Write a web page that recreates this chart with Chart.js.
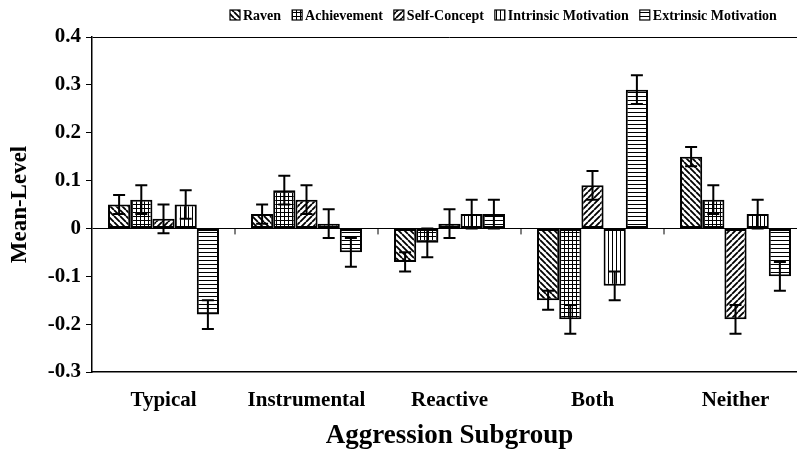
<!DOCTYPE html>
<html>
<head>
<meta charset="utf-8">
<script src="https://cdn.jsdelivr.net/npm/chart.js@4.4.0/dist/chart.umd.min.js"></script>
<style>
html, body { margin: 0; padding: 0; background: #fff; overflow: hidden; }
#wrap { position: relative; width: 812px; height: 455px; }
</style>
</head>
<body>
<div id="wrap"><canvas id="myChart"></canvas></div>
<script>
var grupos = ['Typical', 'Instrumental', 'Reactive', 'Both', 'Neither'];

var raven = [0.05, 0.03, -0.07, -0.15, 0.15];
var achievement = [0.06, 0.08, -0.03, -0.19, 0.06];
var selfConcept = [0.02, 0.06, 0.01, 0.09, -0.19];
var intrinsic = [0.05, 0.01, 0.03, -0.12, 0.03];
var extrinsic = [-0.18, -0.05, 0.03, 0.29, -0.10];

var ravenErro = [0.02, 0.02, 0.02, 0.02, 0.02];
var achievementErro = [0.03, 0.03, 0.03, 0.03, 0.03];
var selfConceptErro = [0.03, 0.03, 0.03, 0.03, 0.03];
var intrinsicErro = [0.03, 0.03, 0.03, 0.03, 0.03];
var extrinsicErro = [0.03, 0.03, 0.03, 0.03, 0.03];

var rotulosY = ['-0.3', '-0.2', '-0.1', '0', '0.1', '0.2', '0.3', '0.4'];

var erros = [ravenErro, achievementErro, selfConceptErro, intrinsicErro, extrinsicErro];

var fonte = "'Liberation Serif', 'Times New Roman', serif";
Chart.defaults.font.family = fonte;
Chart.defaults.font.weight = 'bold';
Chart.defaults.color = '#000';

// hachuras no estilo do grafico original
function criarPadrao(tipo) {
    var s = 6;
    if (tipo === 'grade' || tipo === 'vertical' || tipo === 'horizontal') s = 4;
    var c = document.createElement('canvas');
    c.width = s;
    c.height = s;
    var p = c.getContext('2d');
    p.fillStyle = '#fff';
    p.fillRect(0, 0, s, s);
    p.strokeStyle = '#000';
    p.lineWidth = (tipo === 'contra' || tipo === 'diagonal') ? 1.8 : 1;
    p.beginPath();
    if (tipo === 'contra') {
        for (var o = -s; o <= s; o += s) { p.moveTo(o, 0); p.lineTo(o + s, s); }
    } else if (tipo === 'diagonal') {
        for (var o2 = -s; o2 <= s; o2 += s) { p.moveTo(o2, s); p.lineTo(o2 + s, 0); }
    } else if (tipo === 'grade') {
        p.moveTo(0, 0.5); p.lineTo(s, 0.5);
        p.moveTo(0.5, 0); p.lineTo(0.5, s);
    } else if (tipo === 'vertical') {
        p.moveTo(0.5, 0); p.lineTo(0.5, s);
    } else {
        p.moveTo(0, 0.5); p.lineTo(s, 0.5);
    }
    p.stroke();
    return p.createPattern(c, 'repeat');
}

var errosPlugin = {
    id: 'erros',
    afterDatasetsDraw: function (chart) {
        var ctx = chart.ctx;
        var y = chart.scales.y;
        ctx.save();
        ctx.strokeStyle = '#000';
        ctx.lineWidth = 2;
        chart.data.datasets.forEach(function (ds, i) {
            var meta = chart.getDatasetMeta(i);
            meta.data.forEach(function (bar, j) {
                var v = ds.data[j];
                var e = erros[i][j];
                var yTop = y.getPixelForValue(v + e);
                var yBot = y.getPixelForValue(v - e);
                ctx.beginPath();
                ctx.moveTo(bar.x, yTop); ctx.lineTo(bar.x, yBot);
                ctx.moveTo(bar.x - 6, yTop); ctx.lineTo(bar.x + 6, yTop);
                ctx.moveTo(bar.x - 6, yBot); ctx.lineTo(bar.x + 6, yBot);
                ctx.stroke();
            });
        });
        // marcas entre grupos na linha do zero
        var x = chart.scales.x;
        var y0 = y.getPixelForValue(0);
        ctx.lineWidth = 1;
        ctx.beginPath();
        for (var k = 0; k < grupos.length - 1; k++) {
            var xb = (x.getPixelForValue(k) + x.getPixelForValue(k + 1)) / 2;
            ctx.moveTo(xb, y0); ctx.lineTo(xb, y0 + 6);
        }
        ctx.stroke();
        ctx.restore();
    }
};

var legendaPlugin = {
    id: 'legenda',
    afterDraw: function (chart) {
        var ctx = chart.ctx;
        ctx.save();
        ctx.font = 'bold 14px ' + fonte;
        ctx.textBaseline = 'middle';
        ctx.fillStyle = '#000';
        var xAtual = 230;
        var yLeg = 15;
        chart.data.datasets.forEach(function (ds) {
            ctx.fillStyle = ds.backgroundColor;
            ctx.fillRect(xAtual, yLeg - 5, 10, 10);
            ctx.strokeStyle = '#000';
            ctx.lineWidth = 1.2;
            ctx.strokeRect(xAtual, yLeg - 5, 10, 10);
            ctx.fillStyle = '#000';
            ctx.fillText(ds.label, xAtual + 13, yLeg + 1);
            xAtual += 13 + ctx.measureText(ds.label).width + 11;
        });
        ctx.restore();
    }
};

function serie(nome, dados, tipo) {
    return {
        label: nome,
        data: dados,
        backgroundColor: criarPadrao(tipo),
        borderColor: '#000',
        borderWidth: 2,
        borderSkipped: false,
        categoryPercentage: 0.776,
        barPercentage: 1
    };
}

const ctx = document.getElementById('myChart');

var myChart = new Chart(ctx, {
    type: 'bar',
    data: {
        labels: grupos,
        datasets: [
            serie('Raven', raven, 'contra'),
            serie('Achievement', achievement, 'grade'),
            serie('Self-Concept', selfConcept, 'diagonal'),
            serie('Intrinsic Motivation', intrinsic, 'vertical'),
            serie('Extrinsic Motivation', extrinsic, 'horizontal')
        ]
    },
    plugins: [errosPlugin, legendaPlugin],
    options: {
        responsive: true,
        maintainAspectRatio: false,
        animation: false,
        layout: {
            padding: { top: 37, right: 5, left: 0, bottom: 0 }
        },
        scales: {
            y: {
                min: -0.3,
                max: 0.4,
                afterFit: function (scale) { scale.width = 92; },
                ticks: {
                    stepSize: 0.1,
                    padding: 5,
                    font: { size: 21, weight: 'bold' },
                    callback: function (value, index) { return rotulosY[index]; }
                },
                grid: {
                    drawTicks: true,
                    tickLength: 6,
                    tickColor: '#000',
                    lineWidth: 1,
                    color: function (c) {
                        if (!c.tick) return 'transparent';
                        var v = Math.round(c.tick.value * 10);
                        return (v === 0 || v === 4) ? '#000' : 'transparent';
                    }
                },
                border: { display: true, color: '#000', width: 1.5 },
                title: {
                    display: true,
                    text: 'Mean-Level',
                    font: { size: 23, weight: 'bold' },
                    padding: { top: 6, bottom: 0 }
                }
            },
            x: {
                afterFit: function (scale) { scale.height = 83; },
                ticks: {
                    padding: 16,
                    font: { size: 21, weight: 'bold' }
                },
                grid: { display: false, drawTicks: false },
                border: { display: true, color: '#000', width: 1.5 },
                title: {
                    display: true,
                    text: 'Aggression Subgroup',
                    font: { size: 27, weight: 'bold' },
                    padding: { top: 0, bottom: 3 }
                }
            }
        },
        plugins: {
            legend: { display: false },
            tooltip: { enabled: false }
        }
    }
});
</script>
</body>
</html>
